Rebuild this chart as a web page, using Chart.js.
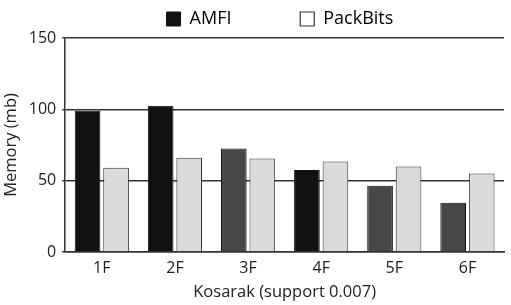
<!DOCTYPE html>
<html>
<head>
<meta charset="utf-8">
<script src="https://cdn.jsdelivr.net/npm/chart.js@4/dist/chart.umd.min.js"></script>
<style>
  html, body { margin: 0; padding: 0; background: #fff; }
  #wrap { width: 511px; height: 305px; }
</style>
</head>
<body>
<div id="wrap"><canvas id="memChart"></canvas></div>
<script>
const categories = ["1F", "2F", "3F", "4F", "5F", "6F"];
const amfi = [99, 102.5, 72.5, 57.5, 46.5, 34.5];
const packBits = [59, 66, 65.5, 63.5, 60, 55];
const yTicks = [0, 50, 100, 150];

const amfiColors = ["#111111", "#111111", "#474747", "#111111", "#474747", "#474747"];
const font = "'Open Sans', 'DejaVu Sans', sans-serif";

const ctx = document.getElementById("memChart").getContext("2d");
new Chart(ctx, {
  type: "bar",
  data: {
    labels: categories,
    datasets: [
      {
        label: "AMFI",
        data: amfi,
        backgroundColor: amfiColors,
        borderColor: "#111111",
        borderWidth: 1,
        categoryPercentage: 0.78,
        barPercentage: 0.9,
      },
      {
        label: "PackBits",
        data: packBits,
        backgroundColor: "#dadada",
        borderColor: "#333333",
        borderWidth: 1,
        categoryPercentage: 0.78,
        barPercentage: 0.9,
      },
    ],
  },
  options: {
    responsive: true,
    maintainAspectRatio: false,
    animation: false,
    layout: { padding: { left: 1, right: 7, top: 2, bottom: 3 } },
    scales: {
      x: {
        grid: { display: false, drawTicks: false },
        border: { color: "#333", width: 1.5 },
        ticks: { color: "#222", font: { family: font, size: 16 }, padding: 7 },
        title: {
          display: true,
          text: "Kosarak (support 0.007)",
          color: "#222",
          font: { family: font, size: 16.5 },
          padding: { top: -3, bottom: 0 },
        },
      },
      y: {
        min: 0,
        max: 150,
        afterBuildTicks: (axis) => {
          axis.ticks = yTicks.map((v) => ({ value: v }));
        },
        grid: { color: "#333", lineWidth: 1.5, drawTicks: true, tickLength: 3 },
        border: { color: "#333", width: 1.5 },
        ticks: { color: "#222", font: { family: font, size: 16 }, padding: 6 },
        title: {
          display: true,
          text: "Memory (mb)",
          color: "#222",
          font: { family: font, size: 16.5 },
          padding: { top: 0, bottom: 2 },
        },
      },
    },
    plugins: {
      legend: {
        position: "top",
        fullSize: false,
        labels: {
          color: "#222",
          font: { family: font, size: 18 },
          boxWidth: 14,
          boxHeight: 14,
          padding: 8,
          // trailing spaces keep the wide gap between the two entries
          generateLabels: () => [
            { text: "AMFI             ", fillStyle: "#111111", strokeStyle: "#111111", lineWidth: 1, datasetIndex: 0 },
            { text: "PackBits  ", fillStyle: "#ffffff", strokeStyle: "#333333", lineWidth: 1.2, datasetIndex: 1 },
          ],
        },
      },
      tooltip: { enabled: false },
    },
  },
});
</script>
</body>
</html>
